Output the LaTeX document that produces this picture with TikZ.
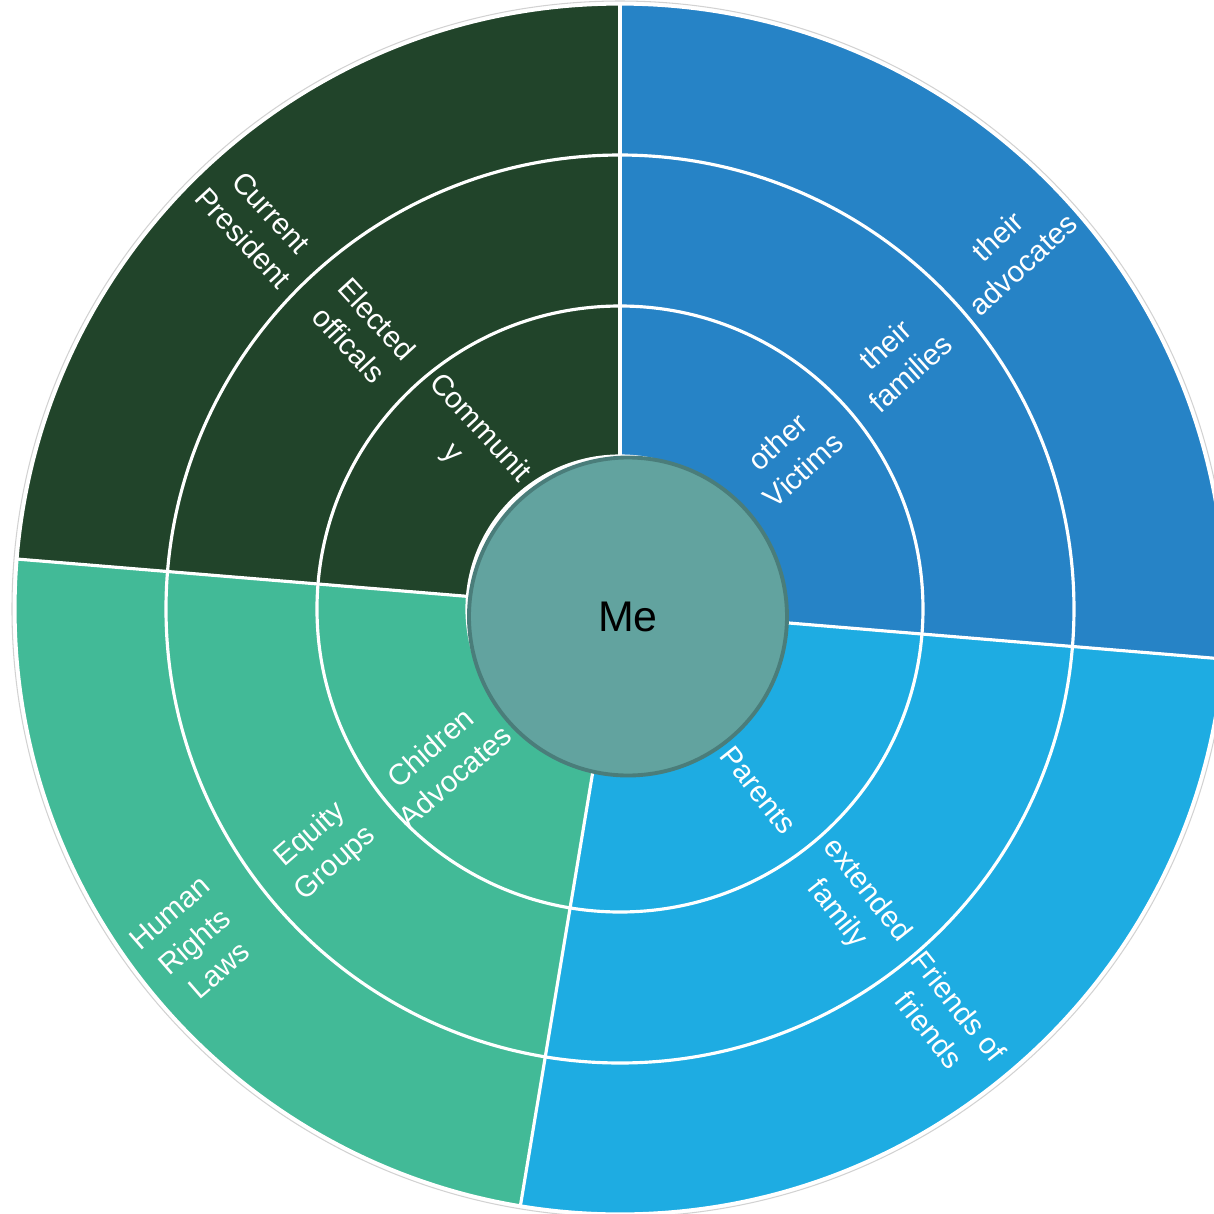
\documentclass[tikz,border=0pt]{standalone}
\usepackage{fontspec}
\setmainfont{Liberation Sans}
\definecolor{segdark}{HTML}{21442A}
\definecolor{segblue}{HTML}{2683C6}
\definecolor{segsky}{HTML}{1EACE2}
\definecolor{segmint}{HTML}{42BA97}
\definecolor{mefill}{HTML}{62A39F}
\definecolor{meline}{HTML}{4A7D7A}

\begin{document}
\begin{tikzpicture}[
    seg/.style={draw=white, line width=0.9pt},
    seglabel/.style={text=white, font=\fontsize{8.4}{10.8}\selectfont, align=center, inner sep=0pt}]
  \useasboundingbox (-6.20,-6.05) rectangle (5.94,6.09);
  % the four wedges
  \fill [segblue] (90:1.53) arc [start angle=90, end angle=-4.737, radius=1.53]
    -- (-4.737:6.05) arc [start angle=-4.737, end angle=90, radius=6.05] -- cycle;
  \fill [segsky] (-4.737:1.53) arc [start angle=-4.737, end angle=-99.474, radius=1.53]
    -- (-99.474:6.05) arc [start angle=-99.474, end angle=-4.737, radius=6.05] -- cycle;
  \fill [segmint] (-99.474:1.53) arc [start angle=-99.474, end angle=-184.737, radius=1.53]
    -- (-184.737:6.05) arc [start angle=-184.737, end angle=-99.474, radius=6.05] -- cycle;
  \fill [segdark] (175.263:1.53) arc [start angle=175.263, end angle=90, radius=1.53]
    -- (90:6.05) arc [start angle=90, end angle=175.263, radius=6.05] -- cycle;
  % ring and wedge borders
  \draw [seg] (0,0) circle (1.53);
  \draw [seg] (0,0) circle (3.03);
  \draw [seg] (0,0) circle (4.54);
  \draw [seg] (0,0) circle (6.05);
  \draw [gray!35, line width=0.3pt] (0,0) circle (6.08);
  \draw [seg] (90:1.53) -- (90:6.05);
  \draw [seg] (-4.737:1.53) -- (-4.737:6.05);
  \draw [seg] (-99.474:1.53) -- (-99.474:6.05);
  \draw [seg] (175.263:1.53) -- (175.263:6.05);
  % centre
  \node [circle, fill=mefill, draw=meline, line width=1.1pt, minimum size=3.18cm,
    font=\fontsize{12.2}{14}\selectfont] (me) at (0.08,-0.075) {Me};
  % labels
  \node [seglabel, rotate=42] (victims) at (42:2.29) {other\\Victims};
  \node [seglabel, rotate=42] (families) at (42:3.74) {their\\families};
  \node [seglabel, rotate=42.63] (advocates) at (42.63:5.30) {their\\advocates};
  \node [seglabel, rotate=-51.5] (parents) at (-52.6:2.28) {Parents};
  \node [seglabel, rotate=-51.5] (extended) at (-51.7:3.74) {extended\\family};
  \node [seglabel, rotate=-51.5] (friends) at (-51.6:5.22) {Friends of\\friends};
  \node [seglabel, rotate=41] (children) at (-139.3:2.34) {Chidren\\Advocates};
  \node [seglabel, rotate=41] (equity) at (-141:3.82) {Equity\\Groups};
  \node [seglabel, rotate=41] (rights) at (-142:5.40) {Human\\Rights\\Laws};
  \node [seglabel, rotate=-47.37] (community) at (132.63:2.28) {Communit\\y};
  \node [seglabel, rotate=-47.37] (elected) at (132.8:3.78) {Elected\\officals};
  \node [seglabel, rotate=-47.37] (president) at (133.4:5.28) {Current\\President};
\end{tikzpicture}
\end{document}
